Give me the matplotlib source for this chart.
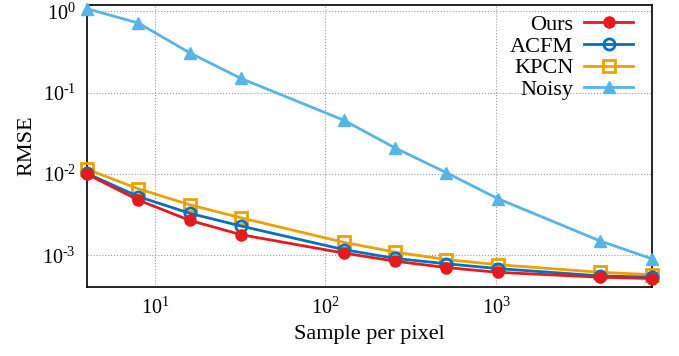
import matplotlib
matplotlib.use("Agg")
import numpy as np
import matplotlib.pyplot as plt
from matplotlib.ticker import LogLocator, FuncFormatter, NullLocator

plt.rcParams["font.family"] = ["Liberation Serif", "DejaVu Serif"]
plt.rcParams["mathtext.fontset"] = "custom"
plt.rcParams["mathtext.rm"] = "Liberation Serif"

# samples per pixel
spp = [4, 8, 16, 32, 128, 256, 512, 1024, 4096, 8192]

# RMSE per method
ours = [0.0100, 0.0048, 0.0027, 0.0018, 0.00107, 0.00085, 0.00071, 0.00062, 0.00054, 0.00052]
acfm = [0.0102, 0.0053, 0.0033, 0.0023, 0.00118, 0.00092, 0.00079, 0.00069, 0.00056, 0.00054]
kpcn = [0.0115, 0.0066, 0.0042, 0.0029, 0.00145, 0.00110, 0.00089, 0.00077, 0.00062, 0.00058]
noisy = [1.08, 0.72, 0.31, 0.15, 0.046, 0.021, 0.0104, 0.0050, 0.0015, 0.00091]


def pow10(v, pos):
    e = int(round(np.log10(v)))
    if e < 0:
        return r"$\mathdefault{10^{\text{-}%d}}$" % (-e)
    return r"$\mathdefault{10^{%d}}$" % e


fig = plt.figure(figsize=(6.79, 3.56), dpi=100)
ax = fig.add_axes([0.128, 0.194, 0.832, 0.792])

ax.plot(spp, ours, color="#e8191c", marker="o", ms=8, lw=2, label="Ours", clip_on=False, zorder=6)
ax.plot(spp, acfm, color="#0072bd", marker="o", ms=8, mfc="none", mew=2, lw=2, label="ACFM", clip_on=False, zorder=5)
ax.plot(spp, kpcn, color="#eda100", marker="s", ms=8, mfc="none", mew=2, lw=2, label="KPCN", clip_on=False, zorder=4)
ax.plot(spp, noisy, color="#56b4e9", marker="^", ms=9, lw=2, label="Noisy", clip_on=False, zorder=3)

ax.set_xscale("log")
ax.set_yscale("log")
ax.set_xlim(4, 8192)
ax.set_ylim(4.1e-4, 1.2)

ax.xaxis.set_major_locator(LogLocator(base=10))
ax.yaxis.set_major_locator(LogLocator(base=10))
ax.xaxis.set_minor_locator(NullLocator())
ax.yaxis.set_minor_locator(NullLocator())
ax.xaxis.set_major_formatter(FuncFormatter(pow10))
ax.yaxis.set_major_formatter(FuncFormatter(pow10))
ax.tick_params(length=0, labelsize=14.5, pad=8)

ax.grid(True, color="#999999", linestyle=":", linewidth=0.8)
for s in ax.spines.values():
    s.set_linewidth(1.2)

ax.set_xlabel("Sample per pixel", fontsize=16)
ax.set_ylabel("RMSE", fontsize=16)

leg = ax.legend(loc="upper right", markerfirst=False, frameon=False, fontsize=16,
                handlelength=2.2, labelspacing=0.05, borderaxespad=0.0, borderpad=0.2,
                handletextpad=0.5, bbox_to_anchor=(0.975, 0.982))

fig.savefig("out.png", dpi=100)
